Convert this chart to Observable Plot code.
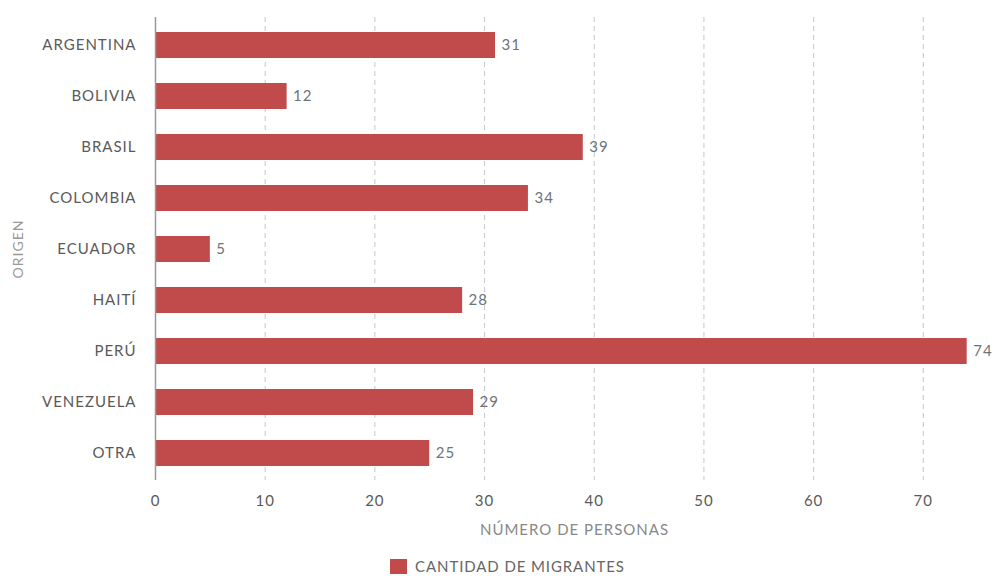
<!DOCTYPE html>
<html>
<head>
<meta charset="utf-8">
<script src="https://cdn.jsdelivr.net/npm/d3@7"></script>
<script src="https://cdn.jsdelivr.net/npm/@observablehq/plot@0.6"></script>
<style>
  html, body { margin: 0; padding: 0; background: #fff; }
  body { width: 995px; height: 576px; overflow: hidden; font-family: Lato, "Open Sans", sans-serif; }
  #chart svg text { letter-spacing: 1px; }
  #legend { display: flex; align-items: center; justify-content: center; gap: 8px; margin-top: 9px; margin-left: 20px;
    font-family: Lato, sans-serif; font-size: 15px; color: #666; letter-spacing: 0.9px; }
  #legend .sw { width: 17px; height: 15px; background: #c14b4b; }
</style>
</head>
<body>
<div id="chart"></div>
<div id="legend"><span class="sw"></span><span>CANTIDAD DE MIGRANTES</span></div>
<script>
const categories = ["ARGENTINA", "BOLIVIA", "BRASIL", "COLOMBIA", "ECUADOR", "HAITÍ", "PERÚ", "VENEZUELA", "OTRA"];
const values = [31, 12, 39, 34, 5, 28, 74, 29, 25];
const xTicks = [0, 10, 20, 30, 40, 50, 60, 70];
const seriesName = "CANTIDAD DE MIGRANTES";
const xLabel = "NÚMERO DE PERSONAS";
const yLabel = "ORIGEN";

const data = categories.map((c, i) => ({origen: c, valor: values[i]}));

const chart = Plot.plot({
  width: 995,
  height: 548,
  marginTop: 17,
  marginBottom: 68,
  marginLeft: 155,
  marginRight: 2,
  style: {fontFamily: "Lato, sans-serif", background: "#fff"},
  x: {domain: [0, 76.4], ticks: xTicks},
  y: {domain: categories, paddingInner: 0.5, paddingOuter: 0.25},
  marks: [
    Plot.gridX(xTicks.filter(d => d > 0), {stroke: "#c4c8cc", strokeOpacity: 1, strokeDasharray: "5,4", strokeWidth: 1}),
    Plot.barX(data, {x: "valor", y: "origen", fill: "#c14b4b"}),
    Plot.text(data, {x: "valor", y: "origen", text: d => String(d.valor), textAnchor: "start", dx: 6, fill: "#6e7378", fontSize: 15}),
    Plot.axisY({tickSize: 0, tickPadding: 19, fontSize: 15, color: "#5a5a5a", label: null}),
    Plot.axisX({ticks: xTicks, tickSize: 0, tickPadding: 15, fontSize: 15, color: "#5a5a5a", label: null}),
    Plot.ruleX([0], {stroke: "#999", strokeWidth: 1.5}),
    Plot.ruleY([0], {stroke: "#999", strokeWidth: 1.5, x1: 0, x2: 76.4}),
    Plot.text([xLabel], {frameAnchor: "bottom", dy: 54, fill: "#888", fontSize: 15}),
    Plot.text([yLabel], {frameAnchor: "left", textAnchor: "middle", dx: -137, rotate: -90, fill: "#999", fontSize: 14})
  ]
});
document.getElementById("chart").appendChild(chart);
</script>
</body>
</html>
